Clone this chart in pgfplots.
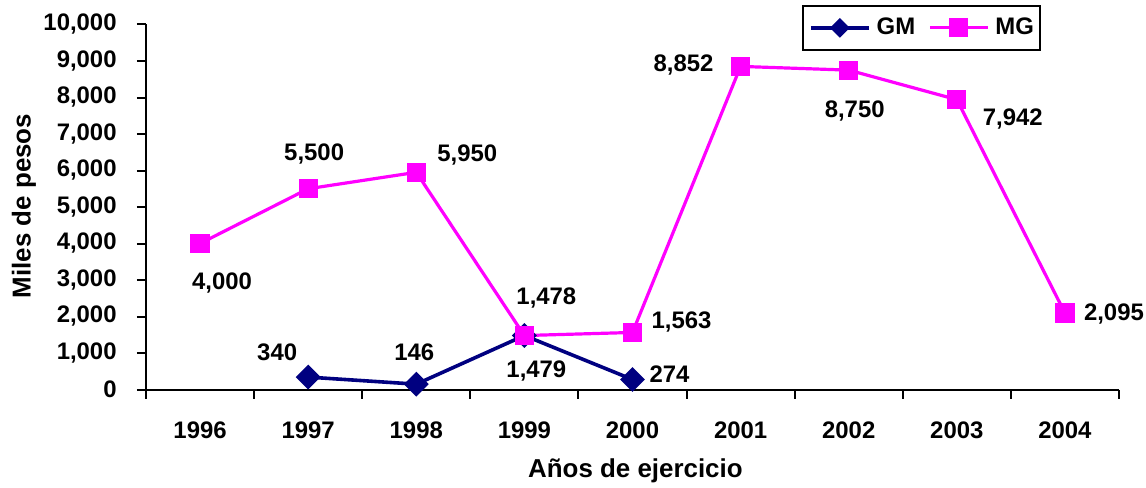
\documentclass[border=0pt]{standalone}
\usepackage{fontspec}
\setmainfont{Liberation Sans}
\usepackage{pgfplots}
\pgfplotsset{compat=1.18}
\usepackage{pgfplotstable}

\definecolor{gmblue}{HTML}{000080}
\definecolor{mgpink}{HTML}{FF00FF}

% x = category index (0 = 1996), dx/dy = label offset in bp
\pgfplotstableread{
x y dx dy
1 340 -15.5 12.5
2 146 -1 16
3 1479 6 -17.5
4 274 18.5 2.5
}\gmdata

\pgfplotstableread{
x y dx dy
0 4000 11 -20
1 5500 3 17.5
2 5950 25.5 8.5
3 1478 11 19
4 1563 24.5 5
5 8852 -28.5 0.5
6 8750 3 -20.5
7 7942 28 -9.5
8 2095 24.5 -0.5
}\mgdata

\begin{document}
\begin{tikzpicture}[font=\fontsize{12}{14}\selectfont\bfseries]
\path[use as bounding box] (-73bp,-49.25bp) rectangle (500bp,194.75bp);
\begin{axis}[
    at={(0,0)}, anchor=south west,
    scale only axis,
    width=486.5bp, height=182.5bp,
    xmin=-0.5, xmax=8.5,
    ymin=0, ymax=10000,
    axis lines*=left,
    axis line style={black, line width=1bp},
    tick pos=left,
    tick align=outside,
    major tick length=4.5bp,
    tick style={black, line width=1bp},
    xtick={-0.5,0.5,1.5,2.5,3.5,4.5,5.5,6.5,7.5,8.5},
    x tick label as interval,
    xticklabels={1996,1997,1998,1999,2000,2001,2002,2003,2004},
    ytick={0,1000,...,10000},
    scaled y ticks=false,
    /pgf/number format/assume math mode=true,
    /pgf/number format/1000 sep={,},
    xticklabel style={anchor=base, inner sep=0pt, yshift=-19.75bp},
    yticklabel style={anchor=east, inner sep=0pt, xshift=-10bp},
    xlabel={Años de ejercicio},
    ylabel={Miles de pesos},
    xlabel style={at={(rel axis cs:0.503,0)}, anchor=base, yshift=-44bp,
        font=\fontsize{13}{15}\selectfont\bfseries},
    ylabel style={at={(rel axis cs:-0.1254,0.503)}, anchor=center, rotate=0,
        font=\fontsize{13}{15}\selectfont\bfseries},
    legend columns=2,
    legend style={at={(rel axis cs:0.9198,1.0534)}, anchor=north east,
        draw=black, line width=1bp, inner xsep=3bp, inner ysep=6bp,
        nodes={inner sep=0pt},
        /tikz/every odd column/.append style={column sep=3bp},
        /tikz/every even column/.append style={column sep=6.5bp}},
    legend image code/.code={
        \draw[mark repeat=2, mark phase=2, #1]
            plot coordinates {(0bp,0bp) (14.5bp,0bp) (29bp,0bp)};},
    nodes near coords,
    visualization depends on={\thisrow{dx}\as\dx},
    visualization depends on={\thisrow{dy}\as\dy},
    every node near coord/.append style={black, anchor=center,
        font=\fontsize{12}{14}\selectfont\bfseries,
        xshift=\dx bp, yshift=\dy bp},
]
\addplot[gmblue, line width=1.8bp, mark=square*,
    mark options={rotate=45, solid, mark size=3.5bp},
    legend image post style={mark options={rotate=45, mark size=2.6bp}}]
    table[x=x, y=y] {\gmdata};
\addlegendentry{GM}
\addplot[mgpink, line width=1.6bp, mark=square*,
    mark options={solid, mark size=4bp}]
    table[x=x, y=y] {\mgdata};
\addlegendentry{MG}
\end{axis}
\end{tikzpicture}
\end{document}
